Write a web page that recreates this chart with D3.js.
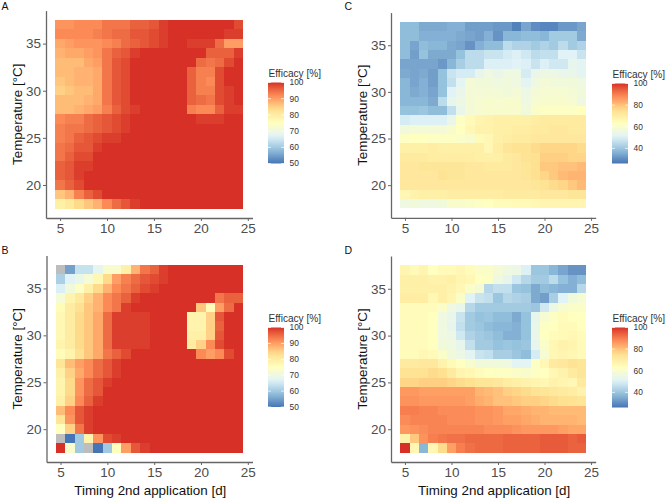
<!DOCTYPE html>
<html>
<head>
<meta charset="utf-8">
<style>
html,body{margin:0;padding:0;background:#fff;}
svg{display:block;font-family:"Liberation Sans",Arial,sans-serif;}
</style>
<script src="https://cdn.jsdelivr.net/npm/d3@7/dist/d3.min.js"></script>
</head>
<body>
<svg id="chart" width="666" height="499"></svg>
<script>
// Application timing (days) and temperature (deg C) of each grid cell
const timings = [5,6,7,8,9,10,11,12,13,14,15,16,17,18,19,20,21,22,23,24];
const temperatures = [37,36,35,34,33,32,31,30,29,28,27,26,25,24,23,22,21,20,19,18];
const axisTicksX = [5,10,15,20,25];
const axisTicksY = [20,25,30,35];
const palette = ["#4575B4","#91BFDB","#E0F3F8","#FFFFBF","#FEE090","#FC8D59","#D73027"];
const legendTicksHigh = [50,60,70,80,90,100];
const legendTicksWide = [40,60,80,100];
const domainHigh = [50,100];
const domainWide = [26,100];

// Efficacy (%), one row per temperature from 37 down to 18; null = no estimate
const efficacyA = [
[91,91,92,92,92,94,94,94,96,96,97,99,100,100,100,100,100,100,100,98],
[92,92,92,92,93,94,95,95,97,97,98,99,100,100,100,100,100,100,99,99],
[89,90,91,91,91,92,93,95,96,97,98,99,100,100,99,99,99,95,90,90],
[88,89,89,90,91,94,96,97,99,100,100,100,100,100,100,100,96,96,96,99],
[87,87,87,89,90,94,97,98,100,100,100,100,100,100,100,95,94,95,98,100],
[87,87,88,88,89,94,97,98,100,100,100,100,100,100,96,93,93,98,100,100],
[86,87,88,88,89,94,97,98,100,100,100,100,100,100,96,93,92,98,100,100],
[85,86,87,87,89,94,97,98,100,100,100,100,100,100,96,93,93,98,99,100],
[87,87,87,88,89,94,97,98,100,100,100,100,100,100,96,95,94,98,99,100],
[87,87,88,89,90,93,96,98,99,100,100,100,100,100,93,92,92,96,99,99],
[92,93,93,95,96,97,98,99,100,100,100,100,100,100,100,99,99,99,100,100],
[93,94,94,95,96,97,98,99,100,100,100,100,100,100,100,100,100,100,100,100],
[93,94,96,97,98,99,99,100,100,100,100,100,100,100,100,100,100,100,100,100],
[94,95,97,97,99,100,100,100,100,100,100,100,100,100,100,100,100,100,100,100],
[94,96,98,98,100,100,100,100,100,100,100,100,100,100,100,100,100,100,100,100],
[96,97,99,99,100,100,100,100,100,100,100,100,100,100,100,100,100,100,100,100],
[96,97,99,100,100,100,100,100,100,100,100,100,100,100,100,100,100,100,100,100],
[94,96,98,100,100,100,100,100,100,100,100,100,100,100,100,100,100,100,100,100],
[86,88,93,96,98,100,100,100,100,100,100,100,100,100,100,100,100,100,100,100],
[79,81,84,86,88,92,95,97,99,100,100,100,100,100,100,100,100,100,100,100]
];

const efficacyB = [
[null,55,64,64,68,73,73,79,88,94,96,99,100,100,100,100,100,100,100,100],
[61,67,69,72,77,84,90,93,95,97,98,99,100,100,100,100,100,100,100,100],
[66,71,74,79,84,88,92,94,96,98,99,100,100,100,100,100,100,100,100,100],
[72,78,81,85,88,92,94,96,99,100,100,100,100,100,100,100,100,94,96,96],
[76,80,83,86,88,92,94,99,100,100,100,100,100,100,100,86,76,90,95,100],
[77,80,84,86,89,95,99,99,99,99,100,100,100,100,78,78,85,97,100,100],
[77,80,84,86,89,95,99,99,99,99,100,100,100,100,78,78,85,96,100,100],
[77,80,84,86,89,95,99,99,99,99,100,100,100,100,79,79,85,97,100,100],
[78,80,84,86,89,95,99,99,99,99,100,100,100,100,80,85,92,98,100,100],
[76,78,83,86,89,94,96,98,100,100,100,100,100,100,100,92,90,92,98,100],
[82,87,90,92,95,97,99,100,100,100,100,100,100,100,100,100,100,100,100,100],
[79,85,89,92,95,97,99,100,100,100,100,100,100,100,100,100,100,100,100,100],
[78,84,91,95,97,99,100,100,100,100,100,100,100,100,100,100,100,100,100,100],
[78,84,91,95,97,100,100,100,100,100,100,100,100,100,100,100,100,100,100,100],
[79,85,92,96,99,100,100,100,100,100,100,100,100,100,100,100,100,100,100,100],
[87,92,97,99,100,100,100,100,100,100,100,100,100,100,100,100,100,100,100,100],
[82,91,97,99,100,100,100,100,100,100,100,100,100,100,100,100,100,100,100,100],
[75,85,94,99,100,100,100,100,100,100,100,100,100,100,100,100,100,100,100,100],
[null,50,60,78,91,98,99,100,100,100,100,100,100,100,100,100,100,100,100,100],
[100,73,60,null,50,60,75,90,97,99,100,100,100,100,100,100,100,100,100,100]
];

const efficacyC = [
[38,38,35,35,35,36,36,33,33,33,32,32,28,34,30,29,29,32,32,34],
[38,38,36,36,36,36,35,34,33,36,31,37,37,38,38,37,41,41,41,35],
[38,34,38,37,37,35,34,31,36,38,38,45,43,43,41,43,41,45,41,43],
[38,33,39,35,35,35,39,45,45,47,47,49,50,48,45,46,46,51,51,47],
[34,34,34,34,32,37,42,45,45,50,50,50,51,50,47,50,48,48,53,52],
[35,34,35,33,39,47,49,49,53,56,54,56,56,49,54,55,55,54,54,52],
[37,34,36,33,39,46,52,58,57,57,56,57,56,52,56,58,57,57,57,56],
[37,35,36,34,39,51,54,58,58,58,58,57,58,55,58,59,59,59,58,57],
[37,37,37,35,45,53,55,58,59,60,59,60,60,56,59,60,60,60,59,56],
[39,39,40,38,38,46,54,58,59,60,60,60,60,57,61,62,62,62,62,63],
[49,50,50,50,50,54,62,65,67,68,69,69,69,69,70,71,71,71,71,71],
[57,58,58,58,58,60,63,66,68,68,69,69,70,70,71,71,72,72,71,71],
[62,63,63,62,62,62,61,60,65,66,69,70,71,71,72,72,72,72,72,72],
[69,69,69,70,69,69,69,69,69,66,70,73,74,74,76,77,77,77,77,76],
[71,71,71,70,70,70,70,70,69,69,69,71,72,74,75,78,78,78,77,77],
[72,72,73,73,73,73,73,72,72,71,71,71,72,73,75,79,79,80,80,81],
[72,72,72,72,74,73,73,72,72,72,72,72,72,73,75,77,79,81,82,82],
[72,72,72,72,72,72,72,72,72,72,72,72,72,72,73,74,76,77,79,81],
[66,68,69,69,69,70,70,70,70,70,70,71,71,71,71,72,72,72,73,73],
[56,57,56,56,57,60,60,61,62,63,64,64,65,65,66,67,67,67,67,67]
];

const efficacyD = [
[67,65,67,63,65,65,66,64,61,61,58,56,55,50,40,40,37,34,31,31],
[69,69,69,68,68,69,67,66,63,62,56,53,48,44,41,41,45,39,36,38],
[69,69,69,69,69,68,66,61,58,44,46,46,40,39,35,38,37,36,36,44],
[70,70,70,66,69,67,61,51,47,46,40,44,43,42,35,33,42,51,57,59],
[64,64,64,64,61,56,54,44,41,41,41,41,41,41,40,48,55,59,61,61],
[64,64,64,63,56,54,47,41,39,40,38,38,35,39,53,59,62,64,63,63],
[64,64,64,63,56,53,46,41,40,38,37,37,36,39,54,62,63,65,65,63],
[64,64,64,63,56,55,48,43,41,40,38,36,36,39,54,63,64,65,66,64],
[64,64,64,63,57,56,53,46,41,41,39,40,39,40,53,61,66,68,67,65],
[64,64,66,65,61,57,55,52,47,46,42,42,40,38,49,59,66,67,66,65],
[71,71,72,72,68,65,63,60,57,57,57,56,52,52,62,66,71,72,74,73],
[74,74,74,76,75,71,67,66,64,63,62,62,61,60,62,63,66,68,71,73],
[77,77,78,78,78,77,76,75,73,73,72,70,69,68,67,66,68,67,66,71],
[86,86,85,85,85,85,85,85,82,81,80,78,77,76,74,73,72,71,70,68],
[87,87,86,86,86,86,86,85,83,82,80,80,79,78,78,77,76,75,74,73],
[90,90,89,89,88,88,88,88,87,87,86,84,84,83,82,82,81,81,81,81],
[88,89,89,89,89,88,88,88,87,87,86,85,85,84,83,82,82,82,82,81],
[86,87,88,89,89,89,89,89,89,88,88,88,87,86,86,86,86,85,84,84],
[68,79,87,90,91,92,92,93,93,93,93,94,94,94,94,95,95,95,94,95],
[100,66,37,66,76,85,90,92,93,93,93,94,94,94,94,95,95,95,94,94]
];

const axisColor = "#666666";
const tickTextColor = "#4d4d4d";
const missingColor = "#bdbdbd";
const svg = d3.select("#chart");
const defs = svg.append("defs");

// Panel frames in pixels: plot box, legend box, letter anchor, x title visibility
const panels = [
  {id:"A", values:efficacyA, domain:domainHigh, legendTicks:legendTicksHigh,
   box:{l:46,r:252.5,t:10.6,b:218}, legend:{x:268,y:82.5,w:16,h:81}, letter:{x:1.5,y:9.5}, xTitle:false},
  {id:"B", values:efficacyB, domain:domainHigh, legendTicks:legendTicksHigh,
   box:{l:46.5,r:252.5,t:255.6,b:462}, legend:{x:268,y:327.5,w:16,h:79.5}, letter:{x:1.5,y:253.5}, xTitle:true},
  {id:"C", values:efficacyC, domain:domainWide, legendTicks:legendTicksWide,
   box:{l:391,r:595.7,t:12.6,b:217.8}, legend:{x:612,y:83.5,w:16,h:80}, letter:{x:344.5,y:9.5}, xTitle:false},
  {id:"D", values:efficacyD, domain:domainWide, legendTicks:legendTicksWide,
   box:{l:391,r:595.7,t:256,b:462}, legend:{x:612,y:327.5,w:16,h:80}, letter:{x:344.5,y:253.5}, xTitle:true}
];

panels.forEach(p => {
  const x = d3.scaleLinear().domain([3.5,25.5]).range([p.box.l,p.box.r]);
  const y = d3.scaleLinear().domain([16.5,38.5]).range([p.box.b,p.box.t]);

  // RdYlBu ramp interpolated in Lab across the panel's value range
  const ramp = d3.piecewise(d3.interpolateLab, palette);
  const color = d3.scaleSequential(ramp).domain(p.domain);

  const g = svg.append("g").attr("class","panel panel-"+p.id);

  // Heat cells
  const cells = [];
  temperatures.forEach((t,i) => timings.forEach((d,j) => cells.push({d,t,v:p.values[i][j]})));
  g.append("g").attr("shape-rendering","crispEdges").selectAll("rect").data(cells).join("rect")
    .attr("x", c => x(c.d-0.5))
    .attr("y", c => y(c.t+0.5))
    .attr("width", c => x(c.d+0.5)-x(c.d-0.5))
    .attr("height", c => y(c.t-0.5)-y(c.t+0.5))
    .attr("fill", c => c.v===null ? missingColor : color(c.v));

  // Axes
  const xAxis = g.append("g").attr("transform",`translate(0,${p.box.b})`)
    .call(d3.axisBottom(x).tickValues(axisTicksX).tickFormat(d3.format("d")).tickSize(3).tickPadding(2.5).tickSizeOuter(0));
  const yAxis = g.append("g").attr("transform",`translate(${p.box.l},0)`)
    .call(d3.axisLeft(y).tickValues(axisTicksY).tickFormat(d3.format("d")).tickSize(3).tickPadding(2).tickSizeOuter(0));
  [xAxis,yAxis].forEach(a => {
    a.select(".domain").attr("stroke",axisColor).attr("stroke-width",1.3);
    a.selectAll(".tick line").attr("stroke",axisColor).attr("stroke-width",1);
    a.selectAll("text").attr("fill",tickTextColor).attr("font-size",13.5).attr("font-family","inherit");
  });

  // Axis titles
  g.append("text")
    .attr("transform",`translate(${p.box.l-24.5},${(p.box.t+p.box.b)/2}) rotate(-90)`)
    .attr("text-anchor","middle").attr("font-size",13.4).attr("fill","#111")
    .text("Temperature [°C]");
  if (p.xTitle) {
    g.append("text")
      .attr("x",(p.box.l+p.box.r)/2+0.8).attr("y",p.box.b+33)
      .attr("text-anchor","middle").attr("font-size",13.4).attr("fill","#111")
      .text("Timing 2nd application [d]");
  }

  // Panel letter
  svg.append("text").attr("x",p.letter.x).attr("y",p.letter.y)
    .attr("font-size",10.5).attr("fill","#111").text(p.id);

  // Colour bar legend
  const gradId = "bar"+p.id;
  const grad = defs.append("linearGradient").attr("id",gradId)
    .attr("x1",0).attr("y1",1).attr("x2",0).attr("y2",0);
  d3.range(0,1.0001,0.05).forEach(f => grad.append("stop")
    .attr("offset",f).attr("stop-color",ramp(f)));
  const ly = d3.scaleLinear().domain(p.domain).range([p.legend.y+p.legend.h,p.legend.y]);
  const lg = g.append("g");
  lg.append("text").attr("x",p.legend.x+0.5).attr("y",p.legend.y-6)
    .attr("font-size",10.1).attr("fill","#333").text("Efficacy [%]");
  lg.append("rect").attr("x",p.legend.x).attr("y",p.legend.y)
    .attr("width",p.legend.w).attr("height",p.legend.h).attr("fill",`url(#${gradId})`);
  const marks = lg.selectAll("g").data(p.legendTicks).join("g")
    .attr("transform",d => `translate(0,${ly(d)})`);
  marks.append("line").attr("x1",p.legend.x).attr("x2",p.legend.x+3)
    .attr("stroke","#fff").attr("stroke-width",0.7);
  marks.append("line").attr("x1",p.legend.x+p.legend.w-3).attr("x2",p.legend.x+p.legend.w)
    .attr("stroke","#fff").attr("stroke-width",0.7);
  marks.append("text").attr("x",p.legend.x+p.legend.w+5.5).attr("y",0)
    .attr("dy","0.35em").attr("font-size",8.4).attr("fill","#333").text(d => d);
});
</script>
</body>
</html>
